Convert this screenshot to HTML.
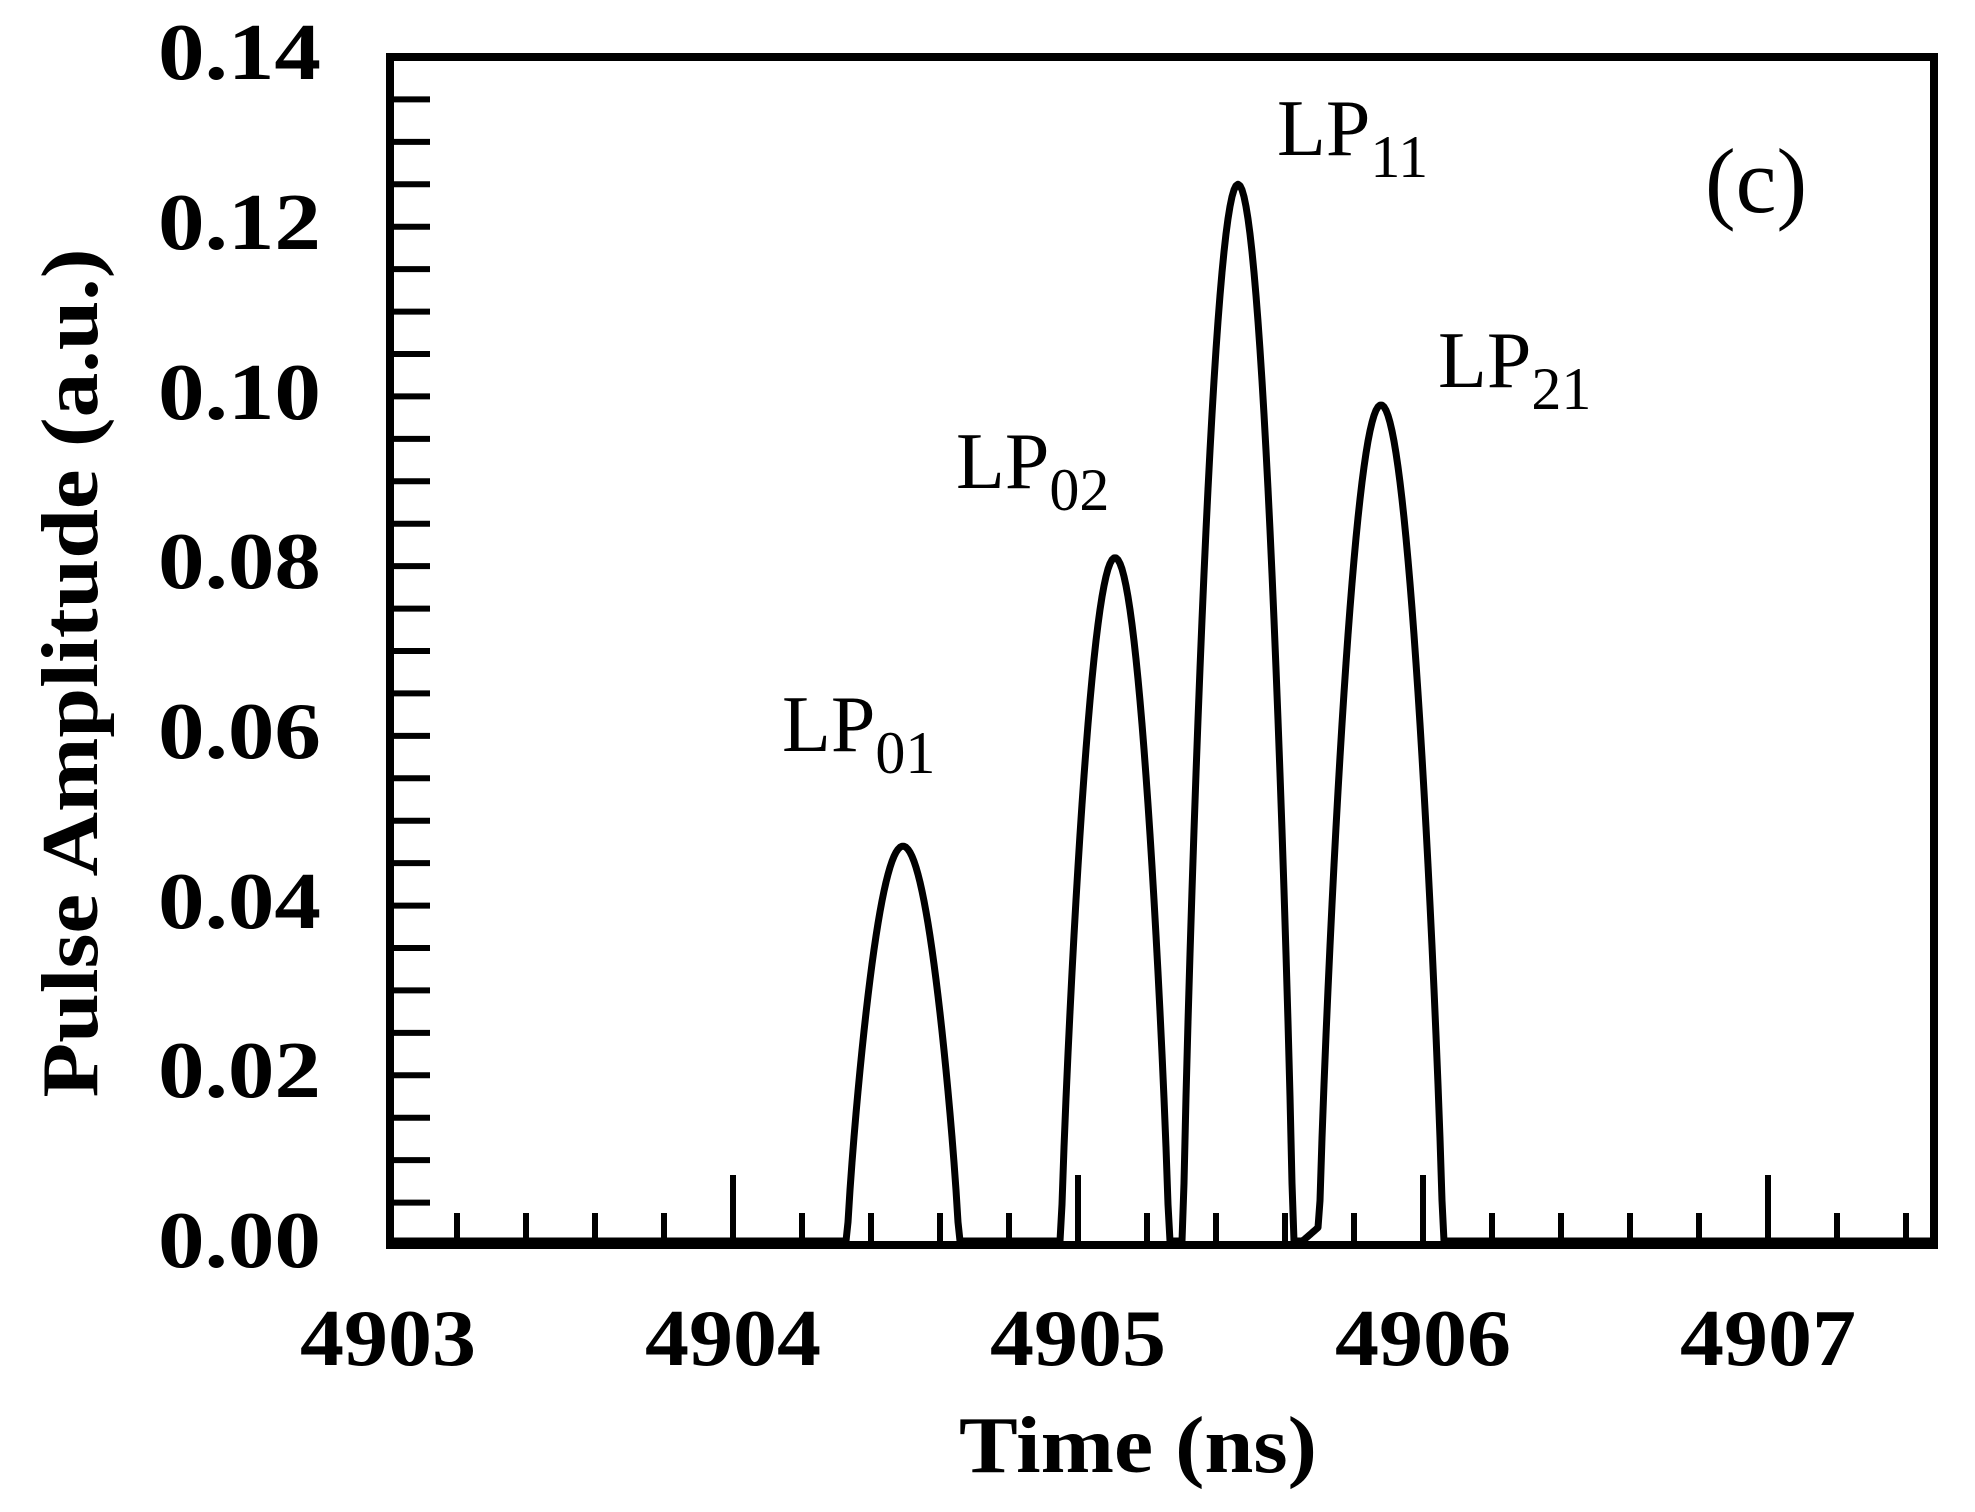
<!DOCTYPE html>
<html><head><meta charset="utf-8"><style>
html,body{margin:0;padding:0;background:#fff;}
svg{display:block;}
text{font-family:"Liberation Serif",serif;fill:#000;}
</style></head><body>
<svg id="s" width="1975" height="1512" viewBox="0 0 1975 1512" xmlns="http://www.w3.org/2000/svg">
<g id="ticks" stroke="#000" stroke-width="6"></g>
<rect x="390" y="57" width="1544" height="1188" fill="none" stroke="#000" stroke-width="8"/>
<path id="curve" fill="none" stroke="#000" stroke-width="7" stroke-linejoin="round"/>
<g font-weight="bold" font-size="80" text-anchor="end">
<text x="321" y="1267" textLength="163" lengthAdjust="spacingAndGlyphs">0.00</text>
<text x="321" y="1097" textLength="163" lengthAdjust="spacingAndGlyphs">0.02</text>
<text x="321" y="928" textLength="163" lengthAdjust="spacingAndGlyphs">0.04</text>
<text x="321" y="758" textLength="163" lengthAdjust="spacingAndGlyphs">0.06</text>
<text x="321" y="588" textLength="163" lengthAdjust="spacingAndGlyphs">0.08</text>
<text x="321" y="419" textLength="163" lengthAdjust="spacingAndGlyphs">0.10</text>
<text x="321" y="249" textLength="163" lengthAdjust="spacingAndGlyphs">0.12</text>
<text x="321" y="79" textLength="163" lengthAdjust="spacingAndGlyphs">0.14</text>
</g>
<g font-weight="bold" font-size="80" text-anchor="middle">
<text x="388" y="1365" textLength="176" lengthAdjust="spacingAndGlyphs">4903</text>
<text x="733" y="1365" textLength="176" lengthAdjust="spacingAndGlyphs">4904</text>
<text x="1078" y="1365" textLength="176" lengthAdjust="spacingAndGlyphs">4905</text>
<text x="1423" y="1365" textLength="176" lengthAdjust="spacingAndGlyphs">4906</text>
<text x="1768" y="1365" textLength="176" lengthAdjust="spacingAndGlyphs">4907</text>
<text x="1138" y="1472" textLength="358" lengthAdjust="spacingAndGlyphs">Time (ns)</text>
<text transform="translate(97,673) rotate(-90)" textLength="849" lengthAdjust="spacingAndGlyphs">Pulse Amplitude (a.u.)</text>
</g>
<g font-size="80" fill="#1a1a1a">
<text x="782" y="751">LP<tspan font-size="60" dy="22">01</tspan></text>
<text x="956" y="488">LP<tspan font-size="60" dy="22">02</tspan></text>
<text x="1277" y="155">LP<tspan font-size="60" dy="22">11</tspan></text>
<text x="1438" y="387">LP<tspan font-size="60" dy="22">21</tspan></text>
<text x="1705" y="212" font-size="92">(c)</text>
</g>
</svg>
<script>
var g=document.getElementById('ticks'),h='';
for(var i=1;i<28;i++){var y=1245-i*1188/28;h+='<line x1="390" y1="'+y+'" x2="430" y2="'+y+'"/>';}
for(var k=1;k<=22;k++){var x=388+k*69;var L=(k%5==0)?70:32;if(x<1930)h+='<line x1="'+x+'" y1="1245" x2="'+x+'" y2="'+(1245-L)+'"/>';}
g.innerHTML=h;
var peaks=[[903,0.047,56],[1115,0.081,54],[1238,0.125,55],[1381,0.099,62]];
function Y(v){return 1245-v/0.14*1188;}
function f(x){var v=0;for(var p of peaks){var d=Math.abs(x-p[0]);if(d<p[2]){var c=Math.cos(Math.PI*d/(2*p[2]));v+=p[1]*Math.pow(c,0.8);}}
 if(x>1298&&x<1337){v=Math.max(v,0.004*(x-1298)/39);} return v;}
var d='';for(var x=392;x<=1930;x+=2){d+=(d?'L':'M')+x+','+Math.min(Y(f(x)),1241).toFixed(1);}
document.getElementById('curve').setAttribute('d',d);
</script>
</body></html>
